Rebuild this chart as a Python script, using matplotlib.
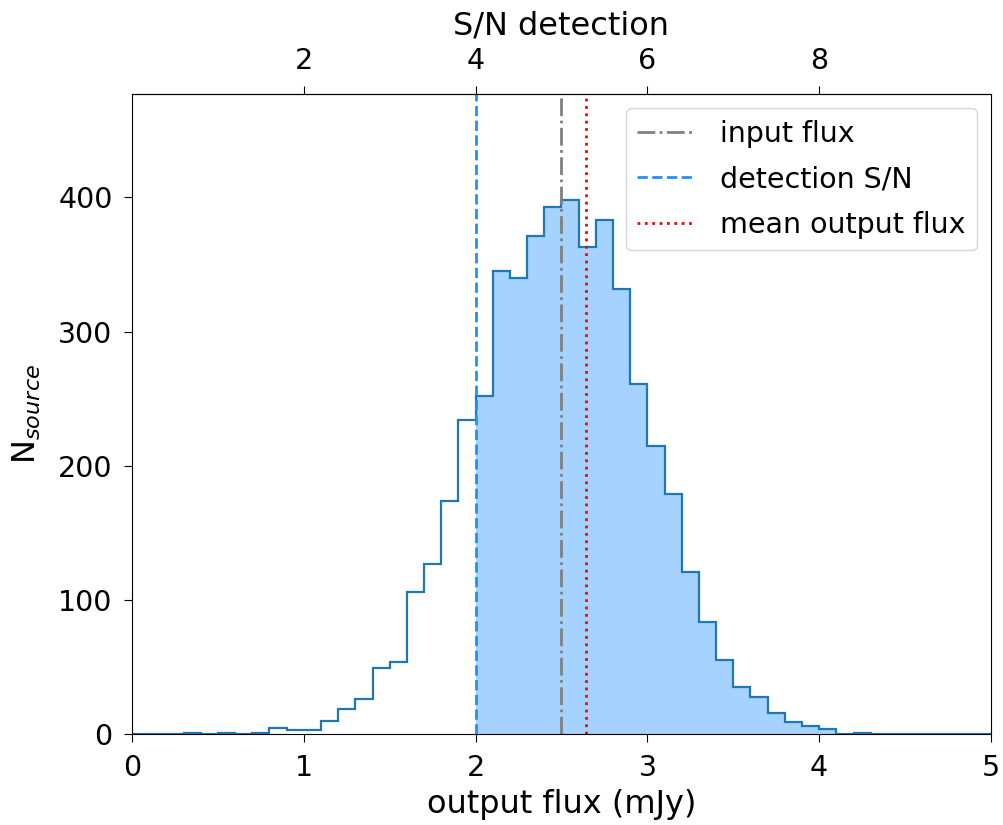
import numpy as np
import matplotlib
matplotlib.use("Agg")
import matplotlib.pyplot as plt

# histogram of output flux, 0.1 mJy bins from 0 to 5
bin_edges = np.round(np.arange(0, 5.01, 0.1), 2)
counts = [0, 0, 0, 1, 0, 1, 0, 1, 5, 3,
          3, 10, 19, 26, 49, 54, 106, 127, 174, 234,
          252, 345, 340, 371, 393, 398, 363, 383, 332, 261,
          215, 179, 121, 84, 55, 35, 28, 16, 9, 6,
          4, 0, 1, 0, 0, 0, 0, 0, 0, 0]

input_flux = 2.5
detection_flux = 2.0
mean_output_flux = 2.64
sn_ticks = [2, 4, 6, 8]

centers = bin_edges[:-1] + 0.05
counts = np.array(counts)
detected = centers >= detection_flux

fig = plt.figure(figsize=(10.04, 8.25), dpi=100)
ax = fig.add_axes([0.1315, 0.110, 0.8555, 0.776])

# filled part (detected sources) and outline of full histogram
ax.hist(centers[detected], bins=bin_edges, weights=counts[detected],
        histtype='stepfilled', color='dodgerblue', alpha=0.4)
ax.hist(centers, bins=bin_edges, weights=counts, histtype='step',
        color='#1f77b4', lw=1.6)

ax.axvline(input_flux, color='gray', ls='-.', lw=2, label='input flux')
ax.axvline(detection_flux, color='dodgerblue', ls='--', lw=2, label='detection S/N')
ax.axvline(mean_output_flux, color='red', ls=':', lw=2, label='mean output flux')

ax.set_xlim(0, 5)
ax.set_ylim(0, 477)
ax.set_xlabel('output flux (mJy)', fontsize=23, labelpad=5)
ax.set_ylabel('N$_{source}$', fontsize=23, labelpad=11)
ax.tick_params(labelsize=20.5, length=6, pad=8)
ax.legend(loc='upper right', fontsize=20.5, labelspacing=0.62,
          handlelength=2.0, handletextpad=0.9)

# top axis: S/N = 2 * flux
top = ax.secondary_xaxis('top', functions=(lambda x: 2 * x, lambda s: s / 2))
top.set_xticks(sn_ticks)
top.set_xlabel('S/N detection', fontsize=23, labelpad=9)
top.tick_params(labelsize=20.5, length=6, pad=8)

fig.savefig('out.png', dpi=100)
